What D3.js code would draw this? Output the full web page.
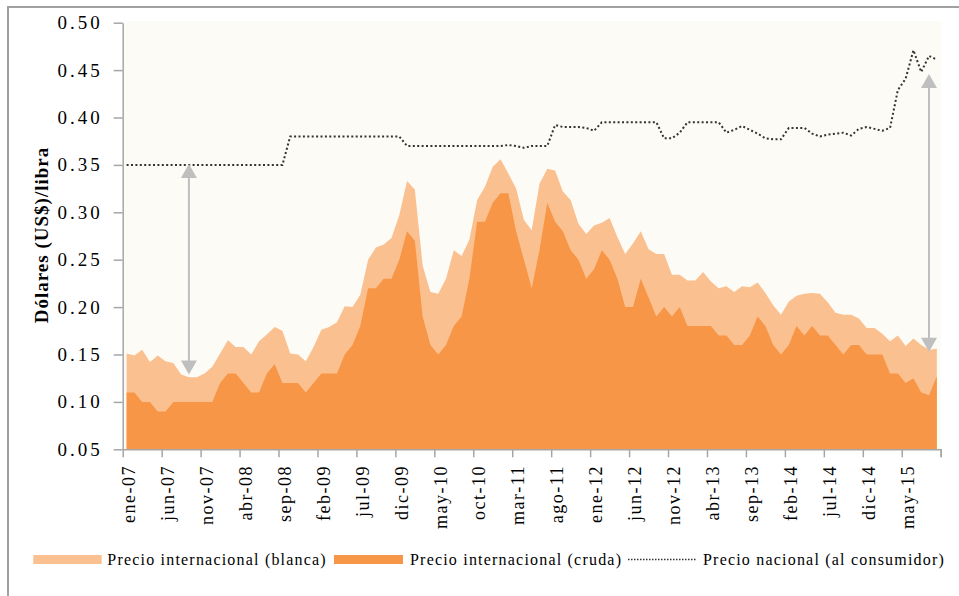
<!DOCTYPE html>
<html>
<head>
<meta charset="utf-8">
<script src="https://cdn.jsdelivr.net/npm/d3@7"></script>
<style>
  body { margin: 0; background: #fff; }
</style>
</head>
<body>
<div id="chart"></div>
<script>
const width = 959;
const height = 596;
const plot = { left: 122.7, right: 940.7, top: 22.7, bottom: 449.3 };
const serif = '"Liberation Serif", "DejaVu Serif", serif';

// section 1
// data (monthly, ene-07 .. sep-15)

const monthAbbr = ['ene','feb','mar','abr','may','jun','jul','ago','sep','oct','nov','dic'];
const firstYear = 2007;
const nMonths = 105;

const xTickLabels = ['ene-07','jun-07','nov-07','abr-08','sep-08','feb-09','jul-09','dic-09','may-10','oct-10',
  'mar-11','ago-11','ene-12','jun-12','nov-12','abr-13','sep-13','feb-14','jul-14','dic-14','may-15'];
const yTicks = [0.05, 0.10, 0.15, 0.20, 0.25, 0.30, 0.35, 0.40, 0.45, 0.50];

const blanca = [
  0.151,0.149,0.155,0.142,0.149,0.143,0.141,0.129,0.126,0.126,0.130,0.137,
  0.151,0.165,0.158,0.158,0.150,0.164,0.171,0.179,0.175,0.151,0.150,0.143,
  0.158,0.176,0.179,0.184,0.201,0.200,0.213,0.250,0.263,0.266,0.273,0.297,
  0.333,0.324,0.244,0.216,0.214,0.230,0.260,0.254,0.271,0.313,0.327,0.348,
  0.356,0.341,0.325,0.292,0.281,0.330,0.346,0.344,0.322,0.313,0.288,0.277,
  0.286,0.289,0.294,0.274,0.256,0.267,0.280,0.261,0.256,0.256,0.234,0.234,
  0.228,0.228,0.237,0.227,0.220,0.222,0.216,0.222,0.221,0.226,0.215,0.202,
  0.192,0.206,0.212,0.214,0.215,0.214,0.205,0.194,0.192,0.192,0.188,0.178,
  0.178,0.172,0.164,0.170,0.159,0.167,0.160,0.155,0.156
];

const cruda = [
  0.110,0.110,0.100,0.100,0.090,0.090,0.100,0.100,0.100,0.100,0.100,0.100,
  0.120,0.130,0.130,0.120,0.110,0.110,0.130,0.140,0.120,0.120,0.120,0.110,
  0.120,0.130,0.130,0.130,0.150,0.160,0.180,0.220,0.220,0.230,0.230,0.250,
  0.280,0.270,0.190,0.160,0.150,0.160,0.180,0.190,0.230,0.290,0.290,0.310,
  0.320,0.320,0.280,0.250,0.220,0.260,0.310,0.290,0.280,0.260,0.250,0.230,
  0.240,0.260,0.250,0.230,0.200,0.200,0.230,0.210,0.190,0.200,0.190,0.200,
  0.180,0.180,0.180,0.180,0.170,0.170,0.160,0.160,0.170,0.190,0.180,0.160,
  0.150,0.160,0.180,0.170,0.180,0.170,0.170,0.160,0.150,0.160,0.160,0.150,
  0.150,0.150,0.130,0.130,0.120,0.125,0.110,0.107,0.127
];

const nacional = [
  0.350,0.350,0.350,0.350,0.350,0.350,0.350,0.350,0.350,0.350,0.350,0.350,
  0.350,0.350,0.350,0.350,0.350,0.350,0.350,0.350,0.350,0.380,0.380,0.380,
  0.380,0.380,0.380,0.380,0.380,0.380,0.380,0.380,0.380,0.380,0.380,0.380,
  0.370,0.370,0.370,0.370,0.370,0.370,0.370,0.370,0.370,0.370,0.370,0.370,
  0.370,0.371,0.370,0.368,0.370,0.370,0.370,0.392,0.390,0.390,0.390,0.389,
  0.386,0.395,0.395,0.395,0.395,0.395,0.395,0.395,0.395,0.378,0.378,0.384,
  0.395,0.395,0.395,0.395,0.395,0.384,0.387,0.391,0.387,0.383,0.378,0.377,
  0.377,0.389,0.389,0.389,0.383,0.380,0.382,0.383,0.384,0.381,0.388,0.390,
  0.388,0.386,0.389,0.429,0.441,0.471,0.448,0.465,0.461
];

// gap arrows (month index, top value, bottom value)
const arrowMonths = [8, 103];
const arrowTop = [0.351, 0.446];
const arrowBottom = [0.129, 0.153];

const legendLabels = ['Precio internacional (blanca)', 'Precio internacional (cruda)', 'Precio nacional (al consumidor)'];
const colBlanca = '#FAC090';
const colCruda = '#F79646';

const months = [];
for (let i = 0; i < nMonths; i++) {
    const yr = firstYear + Math.floor(i / 12);
    months.push(`${monthAbbr[i % 12]}-${String(yr).slice(2)}`);
}

// section 2
// drawing

const svg = d3.select('#chart')
    .append('svg')
    .attr('width', width)
    .attr('height', height);

svg.append('rect')
    .attr('x', 8).attr('y', 7)
    .attr('width', 1100).attr('height', 700)
    .attr('fill', '#fff')
    .attr('stroke', '#A0A0A0')
    .attr('stroke-width', 2);

const idx = d3.range(nMonths);
const x = d3.scaleBand().domain(idx).range([plot.left, plot.right]);
const xEdge = d3.scaleLinear().domain([0, nMonths]).range([plot.left, plot.right]);
const y = d3.scaleLinear().domain([0.05, 0.50]).range([plot.bottom, plot.top]);
const cx = i => x(i) + x.bandwidth() / 2;

svg.append('rect')
    .attr('x', plot.left)
    .attr('y', y(0.50) - 1.5)
    .attr('width', plot.right - plot.left)
    .attr('height', plot.bottom - y(0.50) + 1.5)
    .attr('fill', '#FDFBF5');

const areaOf = vals => d3.area()
    .x(i => cx(i))
    .y0(y(0.05))
    .y1(i => y(vals[i]));

svg.append('path').datum(idx).attr('d', areaOf(blanca)).attr('fill', colBlanca);
svg.append('path').datum(idx).attr('d', areaOf(cruda)).attr('fill', colCruda);

svg.append('path')
    .datum(idx)
    .attr('d', d3.line().x(i => cx(i)).y(i => y(nacional[i])))
    .attr('fill', 'none')
    .attr('stroke', '#333')
    .attr('stroke-width', 2)
    .attr('stroke-dasharray', '2,2.4');

// arrows
arrowMonths.forEach((m, k) => {
    const ax = cx(m);
    const yt = y(arrowTop[k]);
    const yb = y(arrowBottom[k]);
    const g = svg.append('g').attr('fill', '#BFBFBF');
    g.append('line')
        .attr('x1', ax).attr('x2', ax)
        .attr('y1', yt + 10).attr('y2', yb - 10)
        .attr('stroke', '#BFBFBF').attr('stroke-width', 2);
    g.append('path').attr('d', `M${ax},${yt}L${ax - 8},${yt + 14}L${ax + 8},${yt + 14}Z`);
    g.append('path').attr('d', `M${ax},${yb}L${ax - 8},${yb - 14}L${ax + 8},${yb - 14}Z`);
});

// y axis
const yAxisGroup = svg.append('g')
    .attr('transform', `translate(${plot.left},0)`)
    .call(d3.axisLeft(y).tickValues(yTicks).tickFormat(d3.format('.2f')).tickSize(9).tickPadding(11).tickSizeOuter(0));
yAxisGroup.attr('font-family', null);
yAxisGroup.select('.domain').attr('stroke', '#A6A6A6').attr('stroke-width', 1.5);
yAxisGroup.selectAll('.tick line').attr('stroke', '#A6A6A6').attr('stroke-width', 1.5);
yAxisGroup.selectAll('.tick text')
    .style('font-family', serif)
    .style('font-size', '19px')
    .style('letter-spacing', '3px')
    .attr('fill', '#000');

// x axis: boundary ticks
const xTickGroup = svg.append('g')
    .attr('transform', `translate(0,${plot.bottom})`)
    .call(d3.axisBottom(xEdge).tickValues(d3.range(0, nMonths + 1, 5).concat([nMonths])).tickFormat('').tickSize(8).tickSizeOuter(0));
xTickGroup.select('.domain').attr('stroke', '#A6A6A6').attr('stroke-width', 1.5);
xTickGroup.selectAll('.tick line').attr('stroke', '#A6A6A6').attr('stroke-width', 1.5);

// x axis: labels
const labelIdx = idx.filter(i => xTickLabels.includes(months[i]));
const xLabelGroup = svg.append('g')
    .attr('transform', `translate(0,${plot.bottom})`)
    .call(d3.axisBottom(x).tickValues(labelIdx).tickFormat(i => months[i]).tickSize(0));
xLabelGroup.attr('font-family', null);
xLabelGroup.select('.domain').remove();
xLabelGroup.selectAll('.tick text')
    .attr('transform', 'rotate(-90)')
    .attr('text-anchor', 'end')
    .attr('x', -15.7)
    .attr('y', 2)
    .attr('dy', '0.35em')
    .style('font-family', serif)
    .style('font-size', '18px')
    .style('letter-spacing', '1.5px')
    .attr('fill', '#000');

// y title
svg.append('text')
    .attr('transform', 'translate(48,235) rotate(-90)')
    .attr('text-anchor', 'middle')
    .style('font-family', serif)
    .style('font-size', '19px')
    .style('font-weight', 'bold')
    .style('letter-spacing', '1px')
    .text('Dólares (US$)/libra');

// legend
const lg = svg.append('g');
lg.append('rect').attr('x', 33.3).attr('y', 555).attr('width', 68.4).attr('height', 9).attr('fill', colBlanca);
lg.append('text').attr('x', 107.3).attr('y', 565).text(legendLabels[0]);
lg.append('rect').attr('x', 334).attr('y', 555).attr('width', 69).attr('height', 9).attr('fill', colCruda);
lg.append('text').attr('x', 410).attr('y', 565).text(legendLabels[1]);
lg.append('line')
    .attr('x1', 628).attr('x2', 697).attr('y1', 559.5).attr('y2', 559.5)
    .attr('stroke', '#333').attr('stroke-width', 1.5).attr('stroke-dasharray', '1.5,1.5');
lg.append('text').attr('x', 703).attr('y', 565).text(legendLabels[2]);
lg.selectAll('text')
    .style('font-family', serif)
    .style('font-size', '16px')
    .style('letter-spacing', '1.2px');
</script>
</body>
</html>
